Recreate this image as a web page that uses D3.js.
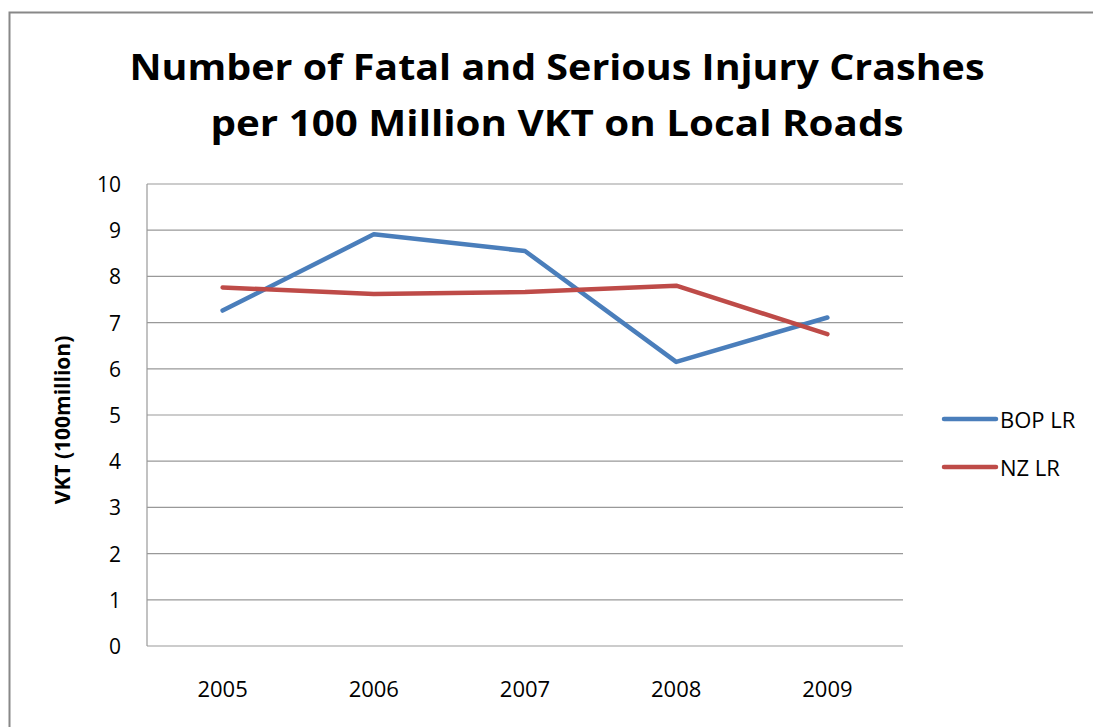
<!DOCTYPE html>
<html>
<head>
<meta charset="utf-8">
<script src="https://cdn.jsdelivr.net/npm/d3@7"></script>
<style>
  html, body { margin: 0; padding: 0; background: #fff; overflow: hidden; }
  svg { display: block; }
  text { font-family: "Open Sans", "Noto Sans", sans-serif; fill: #000; }
</style>
</head>
<body>
<svg id="chart" width="1093" height="727"></svg>
<script>
var years = ["2005", "2006", "2007", "2008", "2009"];
var bopLR = [7.26, 8.91, 8.55, 6.15, 7.11];
var nzLR = [7.76, 7.62, 7.66, 7.80, 6.75];
var yTicks = [0, 1, 2, 3, 4, 5, 6, 7, 8, 9, 10];
var seriesNames = ["BOP LR", "NZ LR"];
var seriesColors = ["#4a7ebb", "#be4b48"];

var svg = d3.select("svg#chart"),
  width = +svg.attr("width"),
  height = +svg.attr("height");

// outer chart frame (only left and top edges are visible)
svg.append("rect")
  .attr("x", 9.5).attr("y", 12.5)
  .attr("width", width + 10).attr("height", height + 10)
  .attr("fill", "none").attr("stroke", "#888").attr("stroke-width", 2);

var plot = { left: 147, right: 903, top: 184, bottom: 646 };

var x = d3.scaleBand().domain(years).range([plot.left, plot.right]);
var y = d3.scaleLinear().domain([0, 10]).range([plot.bottom, plot.top]);

// gridlines
svg.append("g")
  .selectAll("line")
  .data(yTicks)
  .enter().append("line")
  .attr("x1", plot.left).attr("x2", plot.right)
  .attr("y1", function(d) { return y(d); })
  .attr("y2", function(d) { return y(d); })
  .attr("stroke", "#999").attr("stroke-width", 1.2);

// y axis line
svg.append("line")
  .attr("x1", plot.left).attr("x2", plot.left)
  .attr("y1", plot.top).attr("y2", plot.bottom)
  .attr("stroke", "#999").attr("stroke-width", 1.2);

// y tick labels
svg.append("g")
  .selectAll("text")
  .data(yTicks)
  .enter().append("text")
  .attr("x", 121)
  .attr("y", function(d) { return y(d) + 8; })
  .attr("text-anchor", "end")
  .style("font-size", "21px")
  .text(function(d) { return d; });

// x tick labels
svg.append("g")
  .selectAll("text")
  .data(years)
  .enter().append("text")
  .attr("x", function(d) { return x(d) + x.bandwidth() / 2; })
  .attr("y", 697)
  .attr("text-anchor", "middle")
  .style("font-size", "22px")
  .text(function(d) { return d; });

// y axis title
svg.append("text")
  .attr("transform", "translate(70,420) rotate(-90)")
  .attr("text-anchor", "middle")
  .style("font-size", "21px")
  .style("font-weight", "bold")
  .text("VKT (100million)");

// title
svg.append("text")
  .attr("x", 557).attr("y", 80)
  .attr("text-anchor", "middle")
  .style("font-size", "36px")
  .style("font-weight", "bold")
  .attr("textLength", 855)
  .attr("lengthAdjust", "spacingAndGlyphs")
  .text("Number of Fatal and Serious Injury Crashes");
svg.append("text")
  .attr("x", 557).attr("y", 136)
  .attr("text-anchor", "middle")
  .style("font-size", "36px")
  .style("font-weight", "bold")
  .attr("textLength", 693)
  .attr("lengthAdjust", "spacingAndGlyphs")
  .text("per 100 Million VKT on Local Roads");

// lines
var line = d3.line()
  .x(function(d, i) { return x(years[i]) + x.bandwidth() / 2; })
  .y(function(d) { return y(d); });

[bopLR, nzLR].forEach(function(s, i) {
  svg.append("path")
    .datum(s)
    .attr("d", line)
    .attr("fill", "none")
    .attr("stroke", seriesColors[i])
    .attr("stroke-width", 4.5)
    .attr("stroke-linecap", "round")
    .attr("stroke-linejoin", "round");
});

// legend
var legend = svg.append("g")
  .selectAll("g")
  .data(seriesNames)
  .enter().append("g")
  .attr("transform", function(d, i) { return "translate(0," + (419 + i * 48) + ")"; });

legend.append("line")
  .attr("x1", 944).attr("x2", 996)
  .attr("stroke", function(d, i) { return seriesColors[i]; })
  .attr("stroke-width", 4.5)
  .attr("stroke-linecap", "round");

legend.append("text")
  .attr("x", 1000).attr("y", 9)
  .style("font-size", "22px")
  .text(function(d) { return d; });
</script>
</body>
</html>
